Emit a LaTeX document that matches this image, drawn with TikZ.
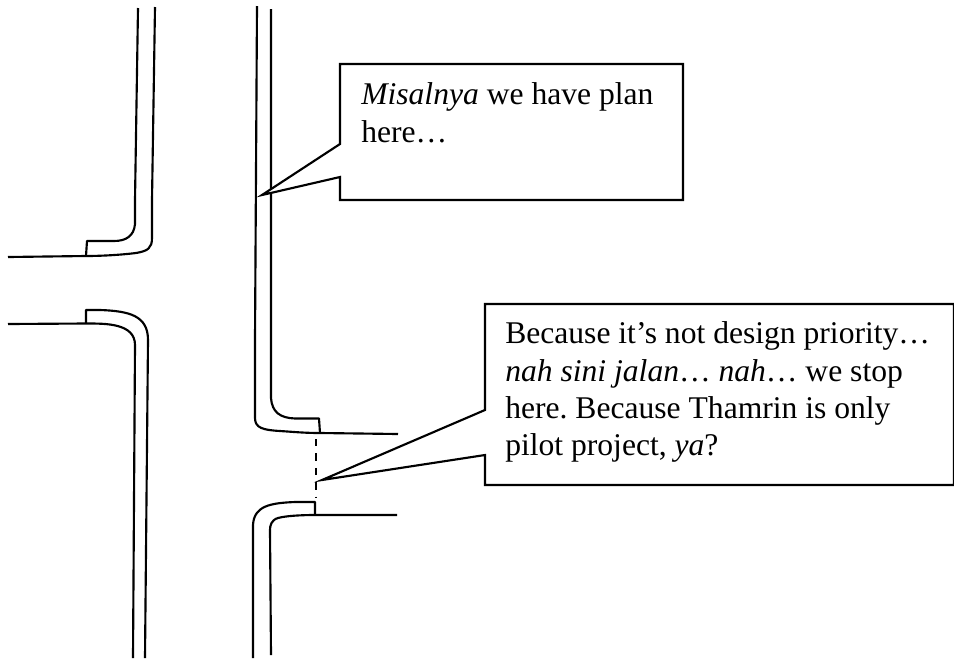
\documentclass[tikz,border=0pt]{standalone}
\usepackage{fontspec}
\setmainfont{Liberation Serif}
\frenchspacing
\tikzset{road/.style={line width=1.6pt,line join=round},callout/.style={line width=1.6pt,line join=miter},txt/.style={anchor=base west,inner sep=0pt,font=\fontsize{23.7}{28}\selectfont}}
\begin{document}
\begin{tikzpicture}[x=0.75pt,y=-0.75pt]
\useasboundingbox (0,0) rectangle (954,658);
% left upper
\draw[road] (155,7) -- (152,200) -- (152,238) .. controls (152,248) and (148,251) .. (136,253) .. controls (120,255) and (100,256) .. (86,256) -- (8,257);
\draw[road] (138,8) -- (135,200) -- (135,224) .. controls (134,236) and (126,241) .. (114,241) -- (87,241) -- (86,256);
% left lower
\draw[road] (8,324) -- (86,323.5) .. controls (105,323.5) and (135,323) .. (135,345) -- (133,658);
\draw[road] (86,323.5) -- (86,310) -- (100,310) .. controls (130,311) and (148,316) .. (148,340) -- (145,658);
% middle upper
\draw[road] (257,6) -- (255,340) -- (255,418) .. controls (255,428) and (263,430) .. (280,431) .. controls (295,432) and (305,433) .. (320,433) -- (398,434);
\draw[road] (271,9) -- (271,398) .. controls (272,412) and (280,418) .. (295,418.5) -- (319,418.5) -- (320,433);
% middle lower
\draw[road] (397,515) -- (315,515) .. controls (300,515) and (285,516) .. (278,518) .. controls (271,520) and (270,526) .. (270,530) -- (271,655);
\draw[road] (315,515) -- (315,502) -- (295,502) .. controls (270,503) and (254,506) .. (253,525) -- (253,658);
% dashed link
\draw[line width=1.6pt,dash pattern=on 5.6pt off 5.2pt] (316,439) -- (316,498);
% callouts
\draw[callout,fill=white] (340,64) -- (683,64) -- (683,200) -- (340,200) -- (340,177) -- (262,195) -- (340,144) -- cycle;
\draw[callout,fill=white] (485,304) -- (954,304) -- (954,485) -- (485,485) -- (485,455) -- (322,480) -- (485,410) -- cycle;
\node[txt] (t1a) at (361,104) {\textit{Misalnya} we have plan};
\node[txt] (t1b) at (361,142) {here…};
\node[txt] (t2a) at (505,343) {Because it’s not design priority…};
\node[txt] (t2b) at (505,381) {\textit{nah sini jalan}… \textit{nah}… we stop};
\node[txt] (t2c) at (505,418) {here. Because Thamrin is only};
\node[txt] (t2d) at (505,455) {pilot project, \textit{ya}?};
\end{tikzpicture}
\end{document}
